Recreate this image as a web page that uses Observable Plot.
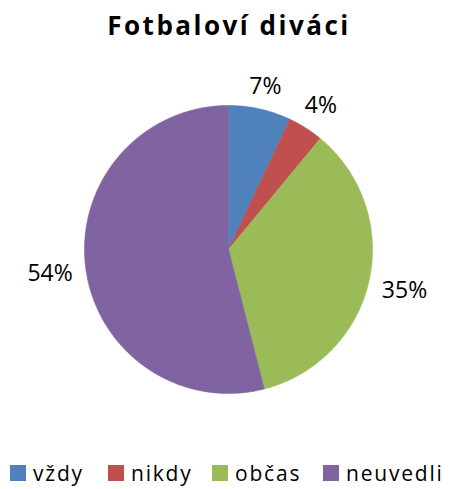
<!DOCTYPE html>
<html>
<head>
<meta charset="utf-8">
<script src="https://cdn.jsdelivr.net/npm/d3@7"></script>
<script src="https://cdn.jsdelivr.net/npm/@observablehq/plot@0.6"></script>
<style>
  html, body { margin: 0; padding: 0; background: #fff; }
  body { width: 451px; height: 489px; position: relative; overflow: hidden; font-family: "Open Sans", sans-serif; }
  #title { position: absolute; left: 0; width: 458px; top: 7px; text-align: center; font-size: 26px; font-weight: bold; letter-spacing: 2.5px; color: #000; }
  #chart { position: absolute; left: 0; top: 60px; }
  #legend { position: absolute; left: 0; top: 455px; width: 451px; height: 34px; }
  .item { position: absolute; top: 0; display: flex; align-items: center; height: 36px; }
  .sw { width: 16px; height: 16px; margin-right: 7px; }
  .lab { font-size: 21px; letter-spacing: 1.8px; color: #000; line-height: 36px; }
</style>
</head>
<body>
<div id="title">Fotbaloví diváci</div>
<div id="chart"></div>
<div id="legend"></div>
<script>
const categories = ["vždy", "nikdy", "občas", "neuvedli"];
const values = [7, 4, 35, 54];
const labels = ["7%", "4%", "35%", "54%"];
const colors = ["#4F81BD", "#C0504D", "#9BBB59", "#8064A2"];

const pie = d3.pie().sort(null).value(d => d.value)(
  categories.map((c, i) => ({cat: c, value: values[i], label: labels[i], color: colors[i]}))
);

// polygon points for each slice (angles clockwise from top)
function slicePoints(arc) {
  const pts = [{x: 0, y: 0}];
  const n = Math.max(2, Math.ceil((arc.endAngle - arc.startAngle) / 0.01));
  for (let k = 0; k <= n; k++) {
    const a = arc.startAngle + (arc.endAngle - arc.startAngle) * k / n;
    pts.push({x: Math.sin(a), y: Math.cos(a)});
  }
  pts.push({x: 0, y: 0});
  return pts;
}

const cx = 228, cy = 189, r = 144;
const fontSize = 23;
const gap = 12;
// label placed outside the pie edge, offset by its own half-size along the direction
const labelData = pie.map(a => {
  const m = (a.startAngle + a.endAngle) / 2;
  const halfW = a.data.label.length * fontSize * 0.33;
  const halfH = fontSize * 0.42;
  const d = (r + gap + halfW * Math.abs(Math.sin(m)) + halfH * Math.abs(Math.cos(m))) / r;
  return {x: d * Math.sin(m), y: d * Math.cos(m), text: a.data.label};
});

const marks = pie.map(a => Plot.line(slicePoints(a), {
  x: "x", y: "y", fill: a.data.color, stroke: a.data.color, strokeWidth: 0.6, curve: "linear"
}));
marks.push(Plot.text(labelData, {
  x: "x", y: "y", text: "text", fontSize, fontFamily: "Open Sans", fill: "#000", dy: 2
}));

const plot = Plot.plot({
  width: 451,
  height: 380,
  margin: 0,
  x: {domain: [-1, 1], range: [cx - r, cx + r], axis: null},
  y: {domain: [-1, 1], range: [cy + r, cy - r], axis: null},
  style: {background: "transparent", overflow: "visible"},
  marks
});
document.getElementById("chart").appendChild(plot);

const legendX = [10, 108, 212, 323];
const legend = document.getElementById("legend");
categories.forEach((c, i) => {
  const it = document.createElement("div");
  it.className = "item";
  it.style.left = legendX[i] + "px";
  it.innerHTML = `<div class="sw" style="background:${colors[i]}"></div><span class="lab">${c}</span>`;
  legend.appendChild(it);
});
</script>
</body>
</html>
